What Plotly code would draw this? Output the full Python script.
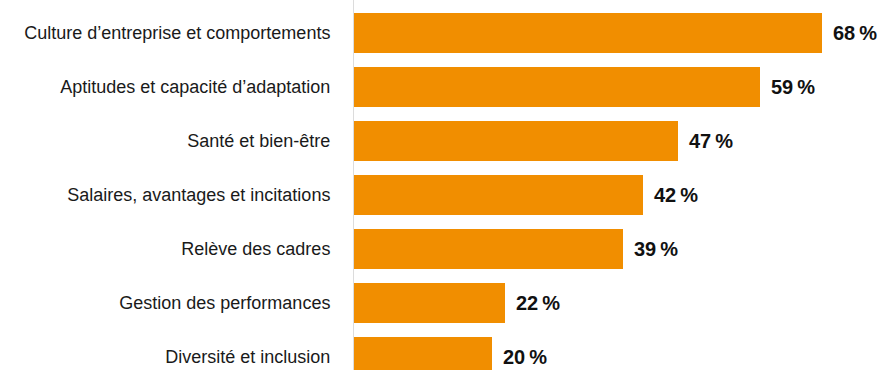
import plotly.graph_objects as go

categories = [
    "Culture d’entreprise et comportements",
    "Aptitudes et capacité d’adaptation",
    "Santé et bien-être",
    "Salaires, avantages et incitations",
    "Relève des cadres",
    "Gestion des performances",
    "Diversité et inclusion",
]
values = [68, 59, 47, 42, 39, 22, 20]

BAR_COLOR = "#F18E00"
positions = list(range(len(categories)))

fig = go.Figure()
fig.add_trace(go.Bar(
    x=values,
    y=positions,
    orientation="h",
    width=0.74,
    marker=dict(color=BAR_COLOR, line=dict(width=0)),
    hoverinfo="skip",
))

# value labels placed just past the end of each bar
for pos, val in zip(positions, values):
    fig.add_annotation(
        x=val, y=pos, xref="x", yref="y",
        text=f"<b>{val}\u2009%</b>",
        showarrow=False, xanchor="left", yanchor="middle",
        xshift=9,
        font=dict(family="Liberation Sans, Arial, sans-serif", size=20, color="#111111"),
    )

fig.update_layout(
    width=883, height=370,
    margin=dict(l=354, r=0, t=0, b=0),
    plot_bgcolor="white", paper_bgcolor="white",
    showlegend=False,
    bargap=0,
    xaxis=dict(range=[0, 76.83], visible=False, fixedrange=True),
    yaxis=dict(
        tickmode="array", tickvals=positions, ticktext=categories,
        range=[6.241, -0.611],
        showline=True, linecolor="#DCDCDC", linewidth=1,
        showgrid=False, zeroline=False, ticks="",
        ticklabelstandoff=19,
        tickfont=dict(family="Liberation Sans Narrow, Arial Narrow, Liberation Sans, sans-serif",
                      size=18, color="#1A1A1A"),
        fixedrange=True,
    ),
)

fig.write_html("out.html")
